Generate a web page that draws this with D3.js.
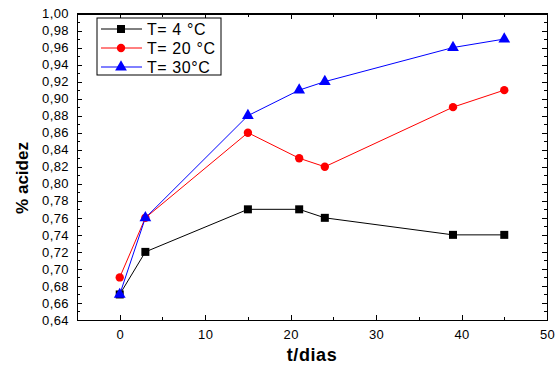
<!DOCTYPE html>
<html lang="es">
<head>
<meta charset="UTF-8">
<title>% acidez</title>
<script src="https://d3js.org/d3.v7.min.js"></script>
<style>
  body { margin: 0; background: #fff; }
  text { font-family: "Liberation Sans", Arial, sans-serif; }
  .axis path, .axis line { stroke: #000; shape-rendering: crispEdges; }
  .axis text { font-size: 13px; fill: #000; letter-spacing: 0.4px; }
</style>
</head>
<body>
<script>
const days = [0, 3, 15, 21, 24, 39, 45];
const t4 = [0.67, 0.72, 0.77, 0.77, 0.76, 0.74, 0.74];
const t20 = [0.69, 0.76, 0.86, 0.83, 0.82, 0.89, 0.91];
const t30 = [0.67, 0.76, 0.88, 0.91, 0.92, 0.96, 0.97];
const seriesNames = ["T= 4 °C", "T= 20 °C", "T= 30°C"];
const xTicks = [0, 10, 20, 30, 40, 50];

const series = [
  { name: seriesNames[0], values: t4, color: "#000000", shape: d3.symbolSquare, size: 64 },
  { name: seriesNames[1], values: t20, color: "#ff0000", shape: d3.symbolCircle, size: 55 },
  { name: seriesNames[2], values: t30, color: "#0000ff", shape: d3.symbolTriangle, size: 60 }
];

const width = 555, height = 367;
const margin = { top: 13.5, right: 8, bottom: 47, left: 77 };
const innerW = width - margin.left - margin.right;
const innerH = height - margin.top - margin.bottom;

const svg = d3.select("body").append("svg")
  .attr("width", width)
  .attr("height", height);

const g = svg.append("g")
  .attr("transform", `translate(${margin.left},${margin.top})`);

const x = d3.scaleLinear().domain([-5, 50]).range([0, innerW]);
const y = d3.scaleLinear().domain([0.64, 1.00]).range([innerH, 0]);

const fmt = d => d3.format(".2f")(d).replace(".", ",");
const yMajor = d3.range(0.64, 1.0001, 0.02);
const yMinor = d3.range(0.65, 1.0, 0.02);
const xMinor = [-5, 5, 15, 25, 35, 45];

// major + minor ticks, all pointing inward
g.append("g").attr("class", "axis")
  .attr("transform", `translate(0,${innerH})`)
  .call(d3.axisBottom(x).tickValues(xTicks).tickSize(-5).tickPadding(10).tickFormat(d3.format("d")));
g.append("g").attr("class", "axis")
  .attr("transform", `translate(0,${innerH})`)
  .call(d3.axisBottom(x).tickValues(xMinor).tickSize(-3).tickFormat(""));
g.append("g").attr("class", "axis")
  .call(d3.axisTop(x).tickValues(xTicks).tickSize(-5).tickFormat(""));
g.append("g").attr("class", "axis")
  .call(d3.axisTop(x).tickValues(xMinor).tickSize(-3).tickFormat(""));

g.append("g").attr("class", "axis")
  .call(d3.axisLeft(y).tickValues(yMajor).tickSize(-5).tickPadding(8).tickFormat(fmt));
g.append("g").attr("class", "axis")
  .call(d3.axisLeft(y).tickValues(yMinor).tickSize(-3).tickFormat(""));
g.append("g").attr("class", "axis")
  .attr("transform", `translate(${innerW},0)`)
  .call(d3.axisRight(y).tickValues(yMajor).tickSize(-5).tickFormat(""));
g.append("g").attr("class", "axis")
  .attr("transform", `translate(${innerW},0)`)
  .call(d3.axisRight(y).tickValues(yMinor).tickSize(-3).tickFormat(""));

g.selectAll(".axis .domain").attr("stroke-width", 1.5);

const line = d3.line()
  .x((d, i) => x(days[i]))
  .y(d => y(d));

series.forEach(s => {
  g.append("path")
    .datum(s.values)
    .attr("fill", "none")
    .attr("stroke", s.color)
    .attr("stroke-width", 1)
    .attr("d", line);
});

series.forEach(s => {
  g.selectAll(null)
    .data(s.values)
    .enter().append("path")
    .attr("transform", (d, i) => `translate(${x(days[i])},${y(d)})`)
    .attr("d", d3.symbol().type(s.shape).size(s.size))
    .attr("fill", s.color);
});

// axis titles
svg.append("text")
  .attr("x", 312).attr("y", 361)
  .attr("text-anchor", "middle")
  .attr("font-weight", "bold")
  .attr("font-size", 18)
  .attr("letter-spacing", 0.6)
  .text("t/dias");

svg.append("text")
  .attr("transform", "translate(28,178) rotate(-90)")
  .attr("text-anchor", "middle")
  .attr("font-weight", "bold")
  .attr("font-size", 17)
  .text("% acidez");

// legend
const legend = svg.append("g").attr("transform", "translate(97,18)");
legend.append("rect")
  .attr("width", 124).attr("height", 57)
  .attr("fill", "#fff").attr("stroke", "#000").attr("stroke-width", 1);

series.forEach((s, i) => {
  const row = legend.append("g").attr("transform", `translate(0,${11 + i * 19})`);
  row.append("line")
    .attr("x1", 4).attr("x2", 45)
    .attr("stroke", s.color).attr("stroke-width", 1);
  row.append("path")
    .attr("transform", "translate(24,0)")
    .attr("d", d3.symbol().type(s.shape).size(s.size))
    .attr("fill", s.color);
  row.append("text")
    .attr("x", 50).attr("y", 6)
    .attr("font-size", 16)
    .attr("letter-spacing", 0.6)
    .text(s.name);
});
</script>
</body>
</html>
